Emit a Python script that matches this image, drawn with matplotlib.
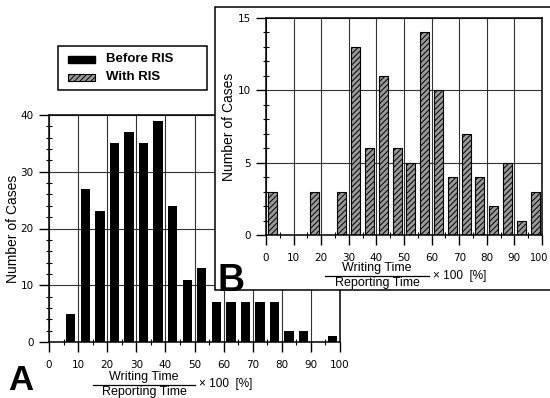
import matplotlib.pyplot as plt
import matplotlib.patches as mpatches
import matplotlib.transforms as mtransforms
from matplotlib.lines import Line2D
import numpy as np

plt.rcParams['font.family'] = ['Liberation Sans', 'DejaVu Sans']
plt.rcParams['hatch.linewidth'] = 0.7

# bin centres (ratio writing / reporting time, %)
bins_a = [7.5, 12.5, 17.5, 22.5, 27.5, 32.5, 37.5, 42.5, 47.5, 52.5,
          57.5, 62.5, 67.5, 72.5, 77.5, 82.5, 87.5, 92.5, 97.5]
before_ris = [5, 27, 23, 35, 37, 35, 39, 24, 11, 13,
              7, 7, 7, 7, 7, 2, 2, 0, 1]

bins_b = [2.5, 7.5, 12.5, 17.5, 22.5, 27.5, 32.5, 37.5, 42.5, 47.5,
          52.5, 57.5, 62.5, 67.5, 72.5, 77.5, 82.5, 87.5, 92.5, 97.5]
with_ris = [3, 0, 0, 3, 0, 3, 13, 6, 11, 6,
            5, 14, 10, 4, 7, 4, 2, 5, 1, 3]

xticks = [0, 10, 20, 30, 40, 50, 60, 70, 80, 90, 100]
legend_labels = ['Before RIS', 'With RIS']

W, H = 550, 398
fig = plt.figure(figsize=(5.5, 3.98), dpi=100)


def px(x, y):
    return x / W, 1 - y / H


def style_axes(ax, ymax, ystep, yminor):
    ax.set_xlim(0, 100)
    ax.set_ylim(0, ymax)
    ax.set_xticks(xticks)
    ax.set_xticks(np.arange(5, 100, 10), minor=True)
    ax.set_yticks(np.arange(0, ymax + 1, ystep))
    ax.set_yticks(np.arange(0, ymax + 0.01, yminor), minor=True)
    ax.grid(True, which='major', color='#333333', linewidth=0.8)
    ax.set_axisbelow(True)
    ax.tick_params(which='major', direction='out', length=7, width=1,
                   labelsize=8, pad=4)
    ax.tick_params(axis='x', which='major', pad=6)
    ax.tick_params(which='minor', direction='inout', length=4, width=0.8)
    for lab in ax.get_xticklabels() + ax.get_yticklabels():
        lab.set_family('DejaVu Sans')
        lab.set_fontsize(7.5)
    for s in ax.spines.values():
        s.set_linewidth(1.1)
    ax.set_ylabel('Number of Cases', fontsize=10, labelpad=1)


def frac_label(xc, y_top, half, z=1):
    # "Writing Time / Reporting Time x 100 [%]" drawn as a fraction
    fig.text(*px(xc, y_top), 'Writing Time', fontsize=9,
             ha='center', va='center', zorder=z)
    fig.text(*px(xc, y_top + 15), 'Reporting Time', fontsize=9,
             ha='center', va='center', zorder=z)
    ln = Line2D([(xc - half) / W, (xc + half) / W],
                [1 - (y_top + 7.5) / H, 1 - (y_top + 7.5) / H],
                color='black', linewidth=0.9, zorder=z)
    fig.add_artist(ln)
    fig.text(*px(xc + half + 4, y_top + 7.5), '\u00d7 100  [%]',
             fontsize=8.5, ha='left', va='center', zorder=z)


# panel A
ax_a = fig.add_axes([49 / W, 1 - 342 / H, 291 / W, 227 / H])
ax_a.bar(bins_a, before_ris, width=3.2, color='black', zorder=2)
style_axes(ax_a, 40, 10, 2)
ax_a.yaxis.set_label_coords(-0.1, 0.5)
frac_label(144, 377, 51)
fig.text(*px(8, 397), 'A', fontsize=25, fontweight='bold',
         ha='left', va='bottom')

# legend box drawn by hand (wide frame as in the original)
fig.add_artist(mpatches.Rectangle(px(58, 90), 149 / W, 44 / H,
                                  transform=fig.transFigure, facecolor='white',
                                  edgecolor='black', linewidth=1.1))
fig.add_artist(mpatches.Rectangle(px(68, 63), 27 / W, 7 / H,
                                  transform=fig.transFigure, facecolor='black',
                                  edgecolor='black'))
fig.add_artist(mpatches.Rectangle(px(68, 81), 27 / W, 7 / H,
                                  transform=fig.transFigure, facecolor='#999999',
                                  edgecolor='black', hatch='//////',
                                  linewidth=0.8))
fig.text(*px(106, 59), legend_labels[0], fontsize=9.5, fontweight='bold',
         ha='left', va='center')
fig.text(*px(106, 77.5), legend_labels[1], fontsize=9.5, fontweight='bold',
         ha='left', va='center')

# white box for panel B on top of A
box = mpatches.Rectangle(px(215, 290), (W - 215) / W + 0.01, 283 / H,
                         transform=fig.transFigure, facecolor='white',
                         edgecolor='black', linewidth=1.1, zorder=3)
fig.add_artist(box)

# panel B
ax_b = fig.add_axes([266 / W, 1 - 235 / H, 276 / W, 217 / H])
ax_b.bar(bins_b, with_ris, width=3.2, facecolor='#999999',
         edgecolor='black', hatch='//////', linewidth=0.8, zorder=2)
style_axes(ax_b, 15, 5, 1)
ax_b.yaxis.set_label_coords(-0.11, 0.5)
ax_b.set_zorder(5)
# keep the "100" label inside the picture
last = ax_b.get_xticklabels()[-1]
last.set_fontsize(7)
last.set_transform(last.get_transform() +
                   mtransforms.ScaledTranslation(-0.03, 0, fig.dpi_scale_trans))
fig.text(*px(217, 291), 'B', fontsize=27, fontweight='bold',
         ha='left', va='baseline', zorder=6)
frac_label(377, 268, 52, z=6)

fig.savefig('out.png', dpi=100)
